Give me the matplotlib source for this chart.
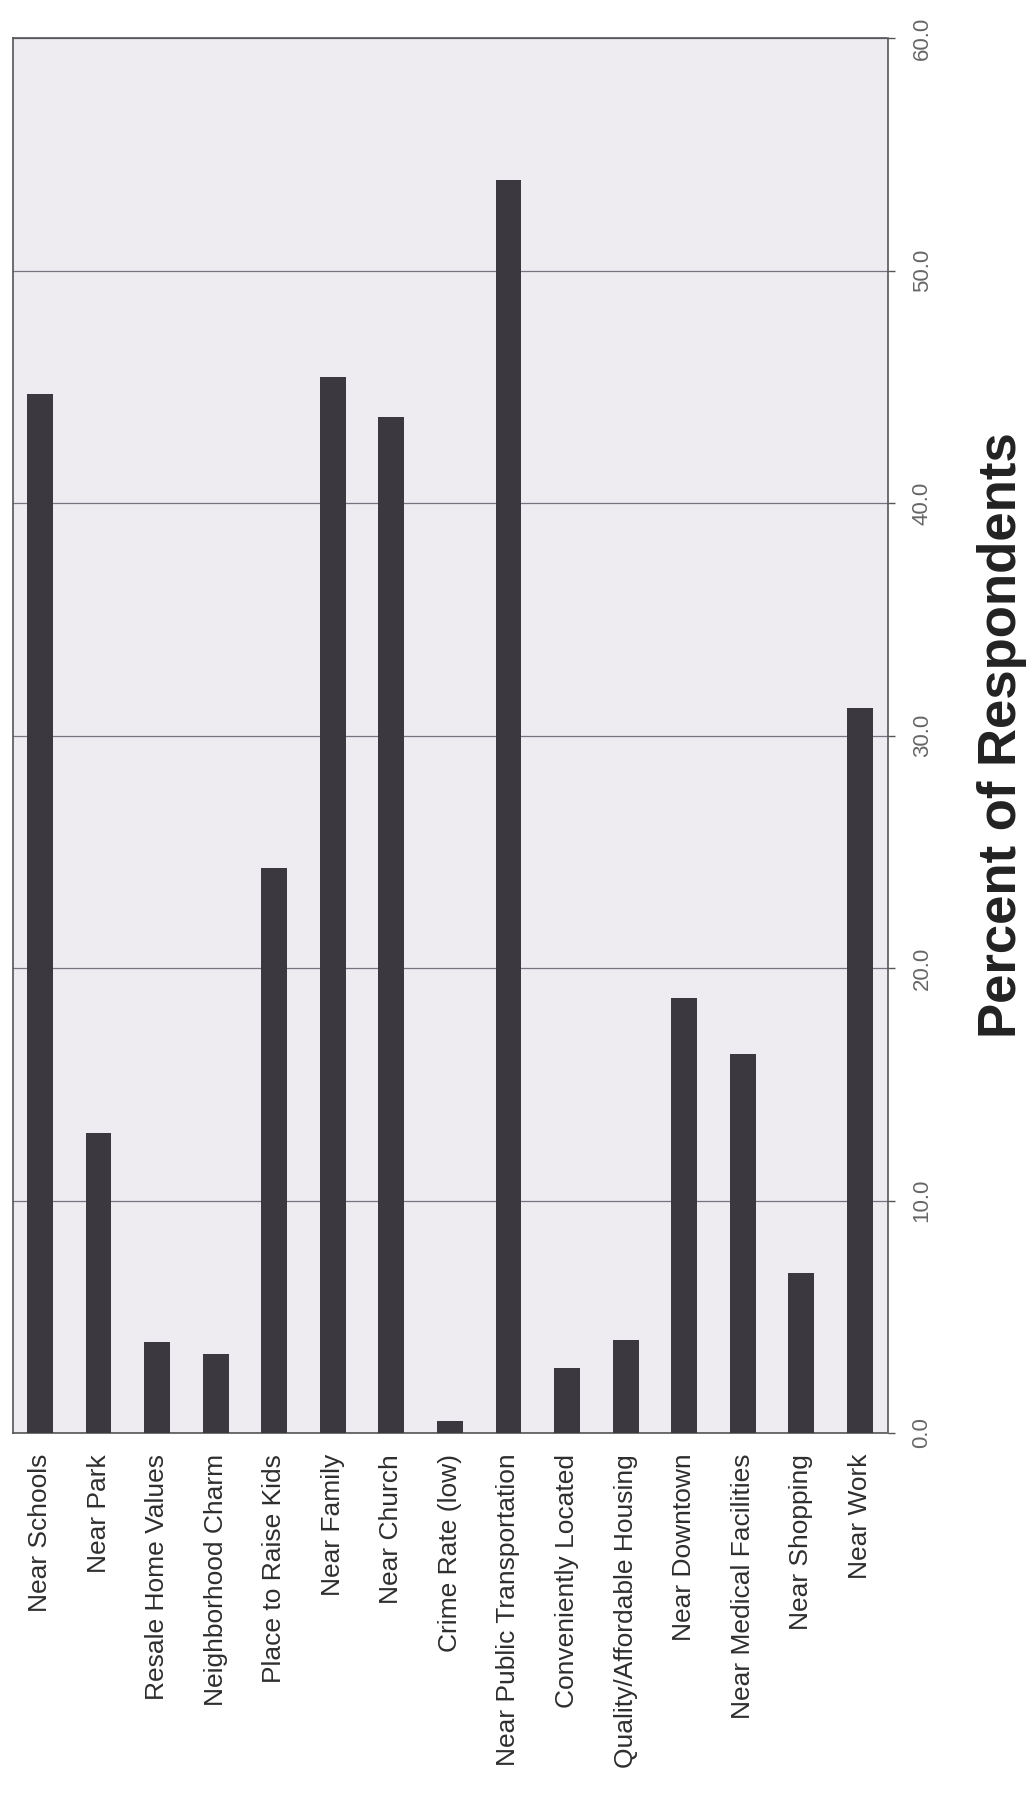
import numpy as np
import matplotlib
matplotlib.use("Agg")
import matplotlib.pyplot as plt

plt.rcParams['font.family'] = ['Liberation Sans', 'DejaVu Sans']

# categories, left to right (the scanned page is turned on its side)
categories = ["Near Schools", "Near Park", "Resale Home Values", "Neighborhood Charm",
              "Place to Raise Kids", "Near Family", "Near Church", "Crime Rate (low)",
              "Near Public Transportation", "Conveniently Located",
              "Quality/Affordable Housing", "Near Downtown", "Near Medical Facilities",
              "Near Shopping", "Near Work"]
percent = [44.7, 12.9, 3.9, 3.4, 24.3, 45.4, 43.7, 0.5, 53.9, 2.8, 4.0, 18.7, 16.3, 6.9, 31.2]
yticks = [0, 10, 20, 30, 40, 50, 60]
ytick_labels = ["0.0", "10.0", "20.0", "30.0", "40.0", "50.0", "60.0"]

fig = plt.figure(figsize=(10.32, 17.98), dpi=100)
ax = fig.add_axes([13/1032, 365/1798, 875/1032, 1395/1798])
ax.set_facecolor("#eeebf1")

x = np.arange(len(categories))
ax.bar(x, percent, width=0.44, color="#3b3840", zorder=3)

ax.set_xlim(-0.46, len(categories) - 1 + 0.48)
ax.set_ylim(0, 60)

# value axis on the right side
ax.yaxis.tick_right()
ax.set_yticks(yticks)
ax.set_yticklabels(ytick_labels, rotation=90, va="center", fontsize=16, color="#666666")
ax.tick_params(axis="y", length=5, width=1, color="#555555", pad=12)
ax.yaxis.grid(True, color="#75757f", linewidth=0.9, zorder=1)

ax.set_xticks(x)
ax.set_xticklabels(categories, rotation=90, ha="center", va="top", fontsize=19, color="#2e2e2e")
ax.tick_params(axis="x", length=0, pad=15)

ax.yaxis.set_label_position("right")
ax.set_ylabel("Percent of Respondents", fontsize=38, fontweight="bold", color="#222222",
              rotation=90, labelpad=32)

for side in ["left", "right", "bottom", "top"]:
    ax.spines[side].set_color("#555555")
    ax.spines[side].set_linewidth(1.2)
    ax.spines[side].set_linestyle((0, (2, 1)))

fig.savefig("out.png", dpi=100, facecolor="white")
